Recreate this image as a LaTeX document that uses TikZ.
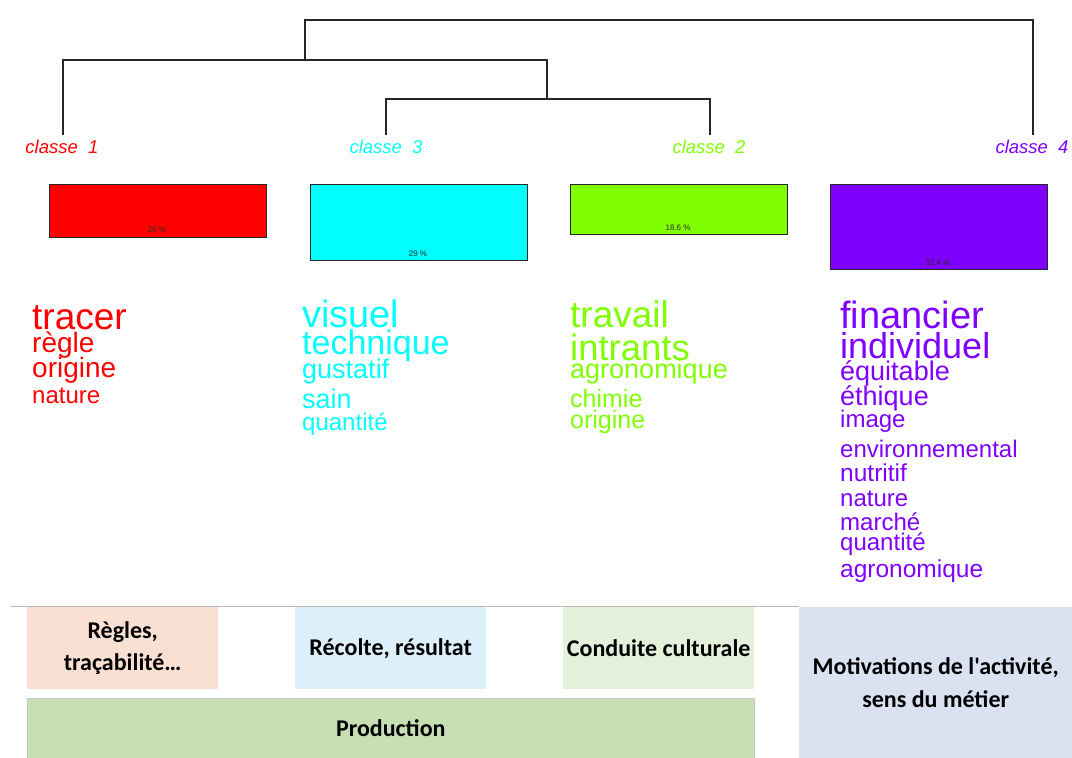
\documentclass[tikz,border=0pt]{standalone}
\usepackage{fontspec}
\setmainfont{Liberation Sans}
\newfontfamily\carl{Carlito}
\definecolor{cA}{HTML}{FF0000}
\definecolor{cB}{HTML}{00FFFF}
\definecolor{cC}{HTML}{80FF00}
\definecolor{cD}{HTML}{8000FF}
\definecolor{peach}{HTML}{FAE0D3}
\definecolor{lblue}{HTML}{DDEFFB}
\definecolor{lgreen}{HTML}{E3F0DA}
\definecolor{prod}{HTML}{C6E0B4}
\definecolor{motiv}{HTML}{DAE2F2}
\definecolor{pcttxt}{HTML}{2A2A2A}
\newcommand\fs[1]{\fontsize{#1}{#1}\selectfont}
\tikzset{
  w/.style={anchor=base west, inner sep=0pt},
  cls/.style={anchor=base, inner sep=0pt, font=\fs{18.5}\itshape},
  dend/.style={line width=1.4pt, color=black!85},
  pbox/.style={draw=black!85, line width=1.1pt, anchor=north west, inner sep=0pt, minimum width=217pt},
  pct/.style={anchor=base, inner sep=0pt, font=\fs{8}, text=pcttxt},
  bbox/.style={anchor=north west, inner sep=0pt, align=center, font=\carl\bfseries\fs{24}},
}
\begin{document}
\begin{tikzpicture}[x=1pt,y=-1pt]
\useasboundingbox[fill=white] (0,0) rectangle (1072,758);
% class labels
\node[cls,text=cA] (k1) at (62,153) {classe\ \ 1};
\node[cls,text=cB] (k3) at (386,153) {classe\ \ 3};
\node[cls,text=cC] (k2) at (709,153) {classe\ \ 2};
\node[cls,text=cD] (k4) at (1032,153) {classe\ \ 4};
% dendrogram junctions
\coordinate (j32) at (547,99);
\coordinate (j132) at (305,60);
\coordinate (top) at (669,20);
\draw[dend] (63,135) |- (j132) -| (547,99);
\draw[dend] (386,135) |- (j32) -| (710,135);
\draw[dend] (305,60) |- (top) -| (1033,135);
% percentage boxes
\node[pbox,fill=cA,minimum height=53pt] (b1) at (49,184) {};
\node[pbox,fill=cB,minimum height=76pt] (b3) at (310,184) {};
\node[pbox,fill=cC,minimum height=50pt] (b2) at (570,184) {};
\node[pbox,fill=cD,minimum height=85pt] (b4) at (830,184) {};
\node[pct] (p1) at (157,232) {20 \%};
\node[pct] (p3) at (418,256) {29 \%};
\node[pct] (p2) at (678,230) {18.6 \%};
\node[pct] (p4) at (938,265) {32.4 \%};
% words class 1
\node[w,text=cA,font=\fs{37}] (a1) at (32,329) {tracer};
\node[w,text=cA,font=\fs{28}] (a2) at (32,352) {règle};
\node[w,text=cA,font=\fs{28}] (a3) at (32,377) {origine};
\node[w,text=cA,font=\fs{24}] (a4) at (32,403) {nature};
% words class 3
\node[w,text=cB,font=\fs{38}] (c1) at (302,327) {visuel};
\node[w,text=cB,font=\fs{34}] (c2) at (302,354) {technique};
\node[w,text=cB,font=\fs{27}] (c3) at (302,378) {gustatif};
\node[w,text=cB,font=\fs{27}] (c4) at (302,408) {sain};
\node[w,text=cB,font=\fs{24}] (c5) at (302,430) {quantité};
% words class 2
\node[w,text=cC,font=\fs{37}] (g1) at (570,327) {travail};
\node[w,text=cC,font=\fs{36.5}] (g2) at (570,360) {intrants};
\node[w,text=cC,font=\fs{27}] (g3) at (570,378) {agronomique};
\node[w,text=cC,font=\fs{25}] (g4) at (570,407) {chimie};
\node[w,text=cC,font=\fs{25}] (g5) at (570,428) {origine};
% words class 4
\node[w,text=cD,font=\fs{38}] (d1) at (840,328) {financier};
\node[w,text=cD,font=\fs{36}] (d2) at (840,358) {individuel};
\node[w,text=cD,font=\fs{27}] (d3) at (840,380) {équitable};
\node[w,text=cD,font=\fs{27}] (d4) at (840,405) {éthique};
\node[w,text=cD,font=\fs{24}] (d5) at (840,427) {image};
\node[w,text=cD,font=\fs{24}] (d6) at (840,457) {environnemental};
\node[w,text=cD,font=\fs{24.5}] (d7) at (840,481) {nutritif};
\node[w,text=cD,font=\fs{24}] (d8) at (840,506) {nature};
\node[w,text=cD,font=\fs{24}] (d9) at (840,530) {marché};
\node[w,text=cD,font=\fs{24}] (d10) at (840,550) {quantité};
\node[w,text=cD,font=\fs{24.5}] (d11) at (840,577) {agronomique};
% bottom themes
\draw[gray!55, line width=0.7pt] (10,606.5) -- (799,606.5);
\node[bbox,fill=peach,minimum width=191pt,minimum height=82pt] (t1) at (27,607) {Règles,\\[8pt]traçabilité…};
\node[bbox,fill=lblue,minimum width=191pt,minimum height=82pt] (t3) at (295,607) {Récolte, résultat};
\node[bbox,fill=lgreen,minimum width=191pt,minimum height=82pt] (t2) at (563,607) {Conduite culturale};
\node[bbox,fill=prod,draw=gray!45,line width=0.6pt,minimum width=727pt,minimum height=61pt] (t5) at (27,697.5) {Production};
\node[bbox,fill=motiv,minimum width=273pt,minimum height=151pt] (t4) at (799,607) {Motivations de l'activité,\\[9pt]sens du métier};
\end{tikzpicture}
\end{document}
